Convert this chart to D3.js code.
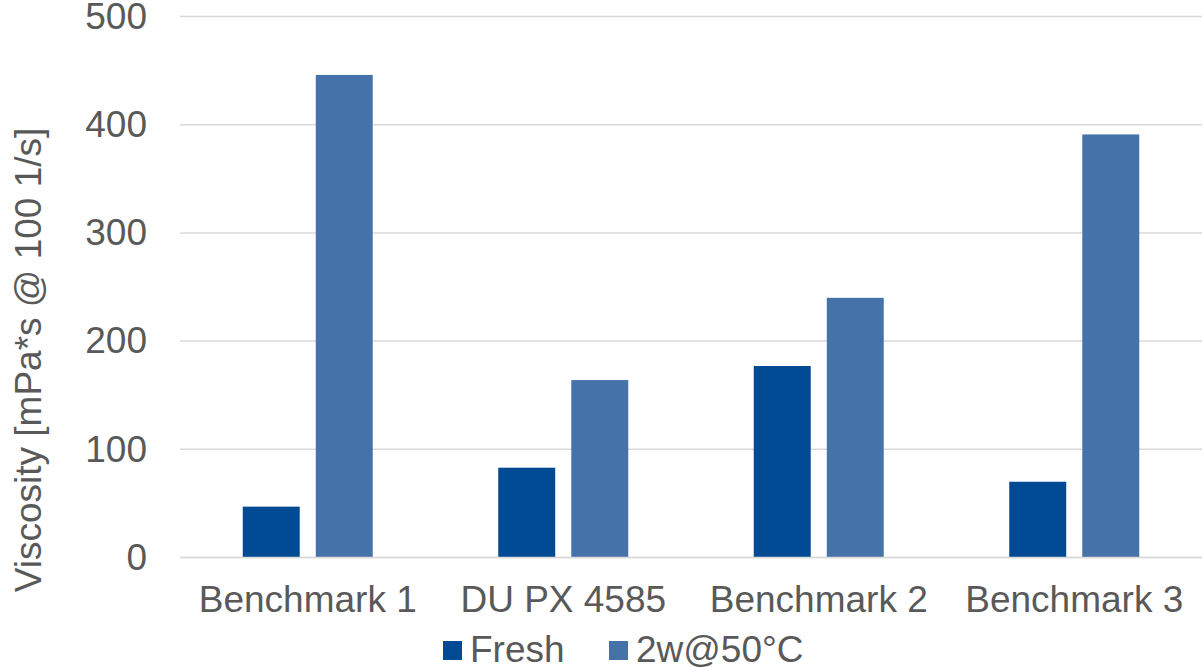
<!DOCTYPE html>
<html>
<head>
<meta charset="utf-8">
<script src="https://cdn.jsdelivr.net/npm/d3@7"></script>
<style>
  html, body { margin: 0; padding: 0; background: #fff; }
  svg { display: block; font-family: "Liberation Sans", Arial, sans-serif; }
</style>
</head>
<body>
<svg id="chart" width="1204" height="667"></svg>
<script>
// Viscosity of each sample, fresh and after 2 weeks at 50 °C
const categories = ["Benchmark 1", "DU PX 4585", "Benchmark 2", "Benchmark 3"];
const seriesNames = ["Fresh", "2w@50°C"];
const freshValues = [47, 83, 177, 70];
const agedValues = [446, 164, 240, 391];
const yTicks = [0, 100, 200, 300, 400, 500];
const yTitle = "Viscosity [mPa*s @ 100 1/s]";

const colors = ["#004A93", "#4573A9"];
const textColor = "#595959";
const fontSize = 37;

const svg = d3.select("#chart");
const margin = { left: 180, right: 2, top: 16.5, bottom: 109.5 };
const W = 1204, H = 667;
const plotW = W - margin.left - margin.right;
const plotH = H - margin.top - margin.bottom;

const g = svg.append("g").attr("transform", `translate(${margin.left},${margin.top})`);

const x = d3.scaleBand().domain(categories).range([0, plotW]).paddingInner(0).paddingOuter(0);
const groupPad = 0.2456;
const x1 = d3.scaleBand().domain(seriesNames)
  .range([x.bandwidth() * groupPad, x.bandwidth() * (1 - groupPad)])
  .paddingInner(0.22);
const y = d3.scaleLinear().domain([0, 500]).range([plotH, 0]);

// horizontal gridlines
g.append("g").selectAll("line").data(yTicks).join("line")
  .attr("x1", 0).attr("x2", plotW)
  .attr("y1", d => y(d)).attr("y2", d => y(d))
  .attr("stroke", "#d9d9d9").attr("stroke-width", 1.5);

// y axis tick labels
const yAxis = d3.axisLeft(y).tickValues(yTicks).tickSize(0).tickPadding(33);
const ya = g.append("g").call(yAxis);
ya.select(".domain").remove();
ya.selectAll("text").attr("font-size", fontSize).attr("fill", textColor)
  .attr("font-family", "Liberation Sans, Arial, sans-serif");

// bars
const rows = categories.map((c, i) => ({ cat: c, vals: [freshValues[i], agedValues[i]] }));
const grp = g.selectAll(".grp").data(rows).join("g")
  .attr("transform", d => `translate(${x(d.cat)},0)`);
grp.selectAll("rect").data(d => d.vals.map((v, k) => ({ key: seriesNames[k], v, k })))
  .join("rect")
  .attr("x", d => x1(d.key))
  .attr("width", x1.bandwidth())
  .attr("y", d => y(d.v))
  .attr("height", d => y(0) - y(d.v))
  .attr("fill", d => colors[d.k]);

// x axis category labels
const xAxis = d3.axisBottom(x).tickSize(0).tickPadding(28);
const xa = g.append("g").attr("transform", `translate(0,${plotH})`).call(xAxis);
xa.select(".domain").remove();
xa.selectAll("text").attr("font-size", fontSize).attr("fill", textColor)
  .attr("font-family", "Liberation Sans, Arial, sans-serif");

// baseline
g.append("line").attr("x1", 0).attr("x2", plotW).attr("y1", y(0)).attr("y2", y(0))
  .attr("stroke", "#d9d9d9").attr("stroke-width", 1.5);

// y axis title
svg.append("text")
  .attr("transform", `translate(41,${360}) rotate(-90)`)
  .attr("text-anchor", "middle")
  .attr("font-size", fontSize).attr("fill", textColor)
  .text(yTitle);

// legend
const legendItems = [{ name: seriesNames[0], x: 443 }, { name: seriesNames[1], x: 609 }];
const lg = svg.append("g");
legendItems.forEach((d, i) => {
  lg.append("rect").attr("x", d.x).attr("y", 641).attr("width", 19).attr("height", 19)
    .attr("fill", colors[i]);
  lg.append("text").attr("x", d.x + 27).attr("y", 662)
    .attr("font-size", fontSize).attr("fill", textColor).text(d.name);
});
</script>
</body>
</html>
